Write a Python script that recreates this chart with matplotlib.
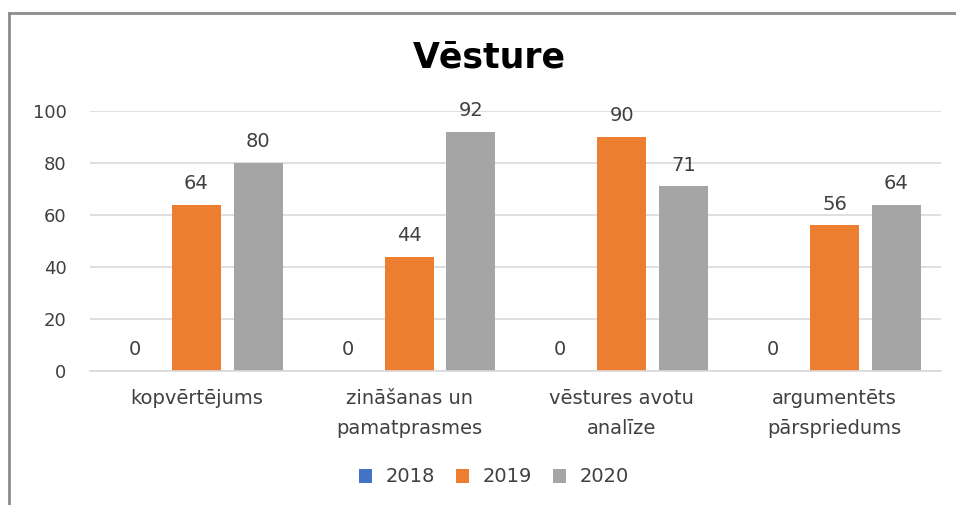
import matplotlib.pyplot as plt
import numpy as np

plt.rcParams['font.family'] = ['DejaVu Sans']

categories = ['kopvērtējums', 'zināšanas un\npamatprasmes', 'vēstures avotu\nanalīze', 'argumentēts\npārspriedums']
years = ['2018', '2019', '2020']
v2018 = [0, 0, 0, 0]
v2019 = [64, 44, 90, 56]
v2020 = [80, 92, 71, 64]
colors = ['#4472C4', '#ED7D31', '#A5A5A5']

fig = plt.figure(figsize=(9.56, 5.05), dpi=100)
ax = fig.add_axes([90 / 956, 134 / 505, 851 / 956, 260 / 505])

x = np.arange(len(categories))
w = 0.23
step = 0.29
for i, (vals, yr) in enumerate(zip([v2018, v2019, v2020], years)):
    bars = ax.bar(x + (i - 1) * step, vals, w, color=colors[i], label=yr)
    for b, v in zip(bars, vals):
        ax.text(b.get_x() + b.get_width() / 2, v + 4.5, str(v), ha='center', va='bottom',
                fontsize=14, color='#404040', clip_on=False)

ax.set_xlim(-0.5, len(categories) - 0.5)
ax.set_ylim(0, 100)
ax.set_yticks(range(0, 101, 20))
ax.set_xticks(x)
ax.set_xticklabels(categories, fontsize=14, color='#404040', linespacing=1.7)
ax.tick_params(axis='y', labelsize=13, labelcolor='#404040', length=0, pad=17)
ax.tick_params(axis='x', length=0, pad=13)
ax.yaxis.grid(True, color='#D9D9D9', linewidth=1.2)
ax.set_axisbelow(True)
for s in ['top', 'right', 'left']:
    ax.spines[s].set_visible(False)
ax.spines['bottom'].set_color('#D9D9D9')
ax.spines['bottom'].set_linewidth(1.2)

fig.text(489 / 956, 1 - 57 / 505, 'Vēsture', ha='center', va='center',
         fontsize=25, fontweight='bold', color='black')

fig.legend(loc='center', bbox_to_anchor=(494 / 956, 1 - 477 / 505), ncol=3, frameon=False,
           fontsize=14, handlelength=0.7, handleheight=0.7, columnspacing=1.05,
           handletextpad=0.7, labelcolor='#404040')

# chart border (top and left visible)
fig.add_artist(plt.Line2D([9 / 956, 9 / 956], [0, 1 - 13 / 505], color='#8C8C8C', linewidth=2, transform=fig.transFigure))
fig.add_artist(plt.Line2D([9 / 956, 1], [1 - 13 / 505, 1 - 13 / 505], color='#8C8C8C', linewidth=2, transform=fig.transFigure))

fig.savefig('out.png', dpi=100, facecolor='white')
